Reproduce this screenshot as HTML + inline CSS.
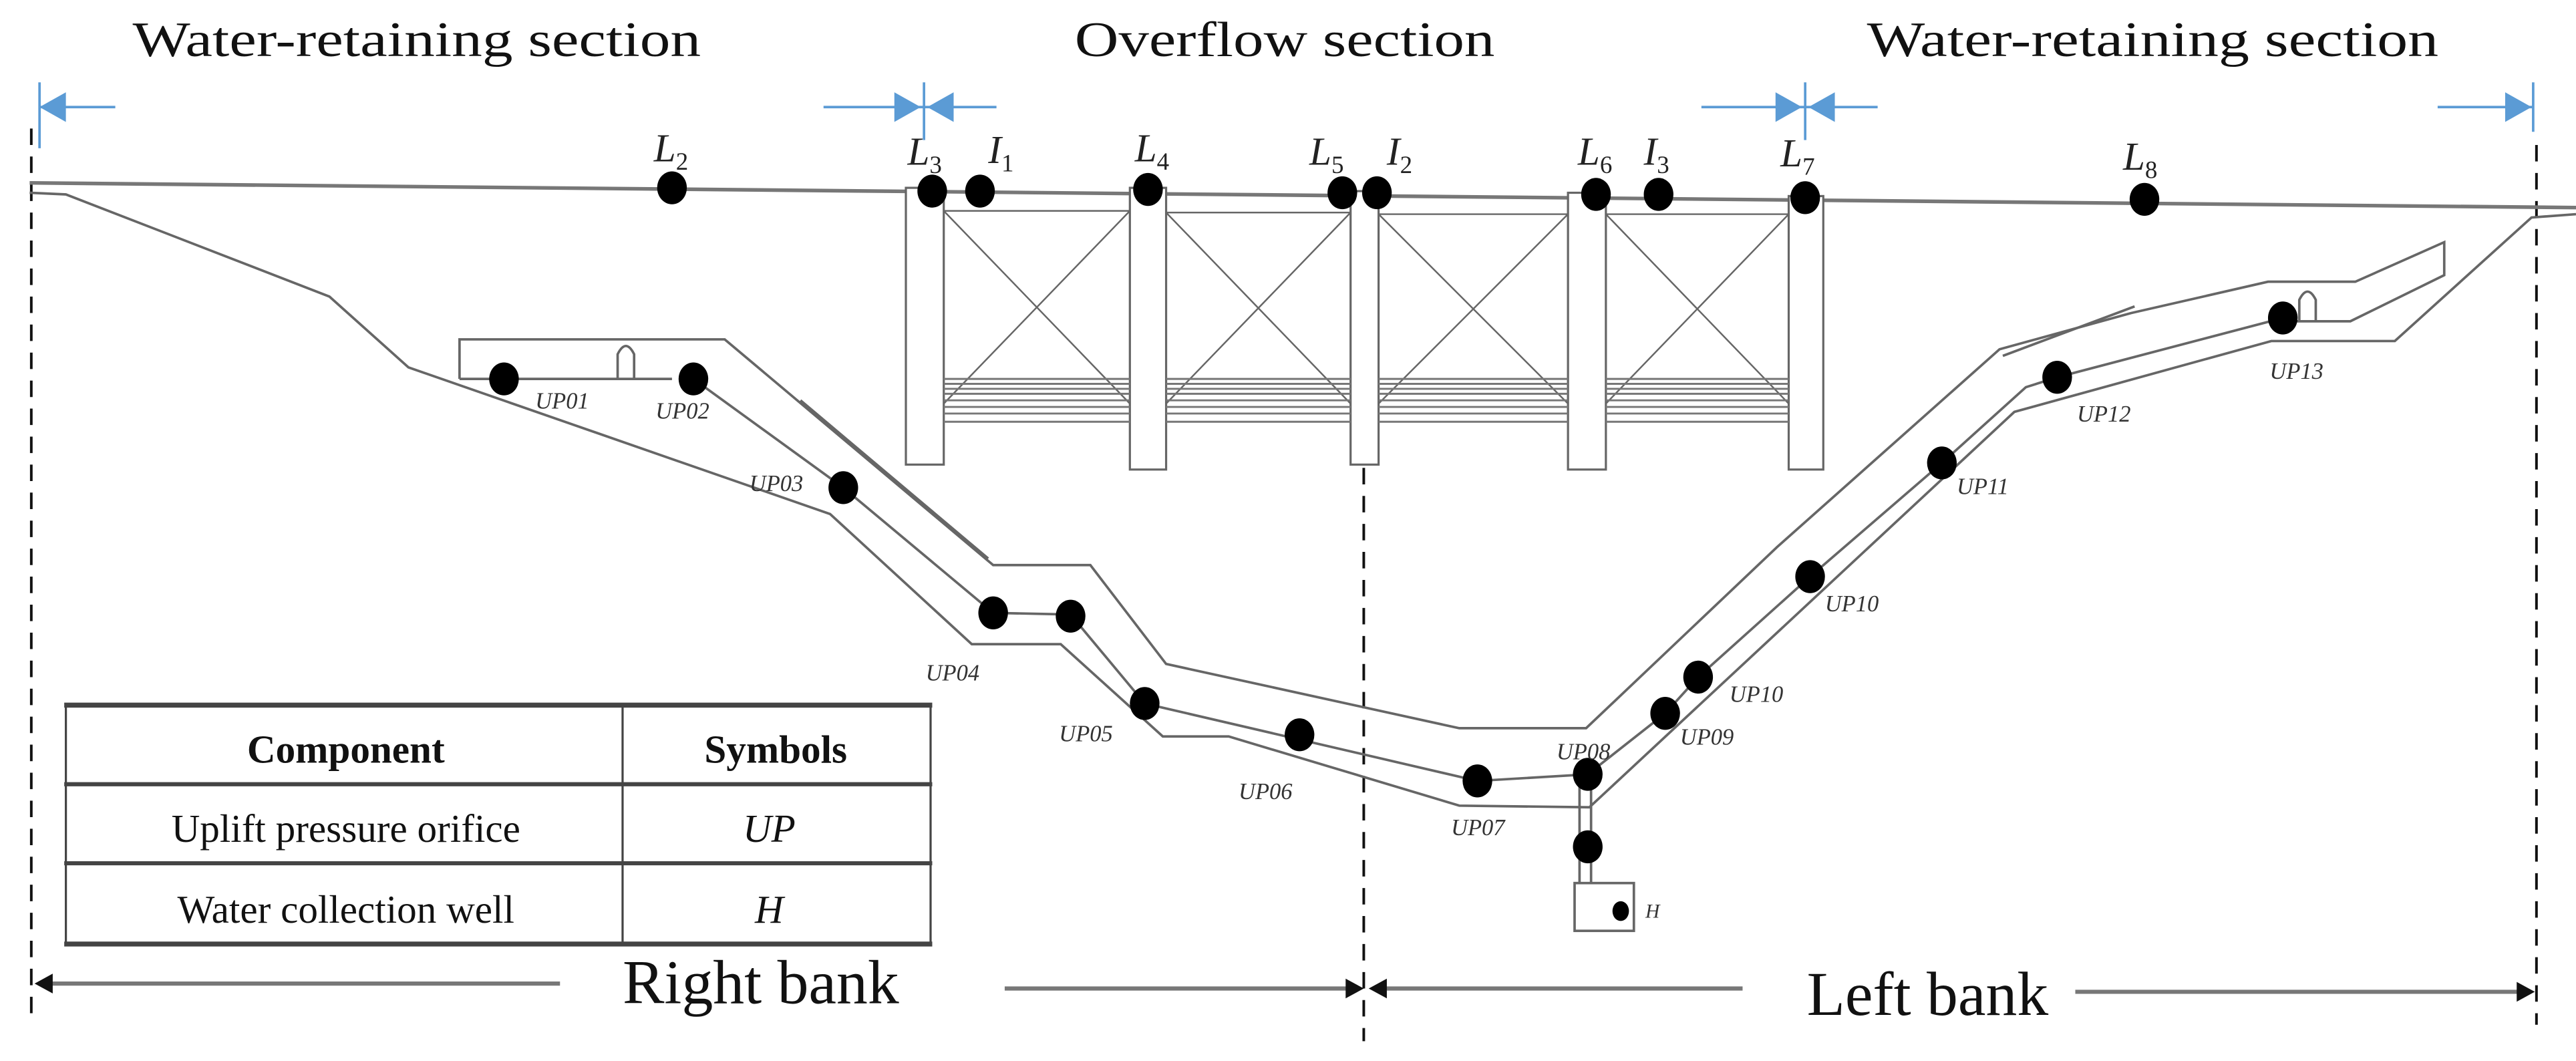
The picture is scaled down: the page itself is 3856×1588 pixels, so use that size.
<!DOCTYPE html>
<html><head><meta charset="utf-8"><style>
html,body{margin:0;padding:0;background:#fff;}
svg{display:block;}
text{font-family:"Liberation Serif",serif;}
</style></head><body>
<svg width="3856" height="1588" viewBox="0 0 1564 644" preserveAspectRatio="none" xmlns="http://www.w3.org/2000/svg">
<rect width="1564" height="644" fill="#fff"/>
<g font-size="30" fill="#111" text-anchor="middle">
<text x="253" y="34" textLength="345" lengthAdjust="spacingAndGlyphs">Water-retaining section</text>
<text x="780" y="34" textLength="255" lengthAdjust="spacingAndGlyphs">Overflow section</text>
<text x="1307" y="34" textLength="347" lengthAdjust="spacingAndGlyphs">Water-retaining section</text>
</g>
<g stroke="#5b9bd5" stroke-width="1.5" fill="#5b9bd5">
<line x1="24" y1="50" x2="24" y2="90"/><line x1="24" y1="65" x2="70" y2="65"/><polygon points="24,65 40,56 40,74" stroke="none"/>
<line x1="561" y1="50" x2="561" y2="85"/><line x1="500" y1="65" x2="605" y2="65"/>
<polygon points="559,65 543,56 543,74" stroke="none"/><polygon points="563,65 579,56 579,74" stroke="none"/>
<line x1="1096" y1="50" x2="1096" y2="85"/><line x1="1033" y1="65" x2="1140" y2="65"/>
<polygon points="1094,65 1078,56 1078,74" stroke="none"/><polygon points="1098,65 1114,56 1114,74" stroke="none"/>
<line x1="1538" y1="50" x2="1538" y2="80"/><line x1="1480" y1="65" x2="1538" y2="65"/><polygon points="1537,65 1521,56 1521,74" stroke="none"/>
</g>
<g stroke="#111" stroke-width="1.6" stroke-dasharray="10,7">
<line x1="19" y1="78" x2="19" y2="622"/>
<line x1="828" y1="250" x2="828" y2="632"/>
<line x1="1540" y1="88" x2="1540" y2="622"/>
</g>
<g stroke="#777" stroke-width="2.2" fill="none">
<line x1="18" y1="111" x2="1564" y2="126"/>
</g>
<g stroke="#666" stroke-width="1.3" fill="#fff">
<rect x="550" y="114" width="23" height="168"/>
<rect x="686" y="114" width="22" height="171"/>
<rect x="820" y="116" width="17" height="166"/>
<rect x="952" y="117" width="23" height="168"/>
<rect x="1086" y="119" width="21" height="166"/>
</g>
<g stroke="#666" stroke-width="1" fill="none">
<path d="M573,128H686M573,245L686,128M573,128L686,245"/>
<path d="M708,129H820M708,245L820,129M708,129L820,245"/>
<path d="M837,130H952M837,245L952,130M837,130L952,245"/>
<path d="M975,130H1086M975,245L1086,130M975,130L1086,245"/>
</g>
<g stroke="#777" stroke-width="1.2">
<path d="M573,230H686M573,233H686M573,236H686M573,239H686M573,243H686M573,247H686M573,251H686M573,256H686"/>
<path d="M708,230H820M708,233H820M708,236H820M708,239H820M708,243H820M708,247H820M708,251H820M708,256H820"/>
<path d="M837,230H952M837,233H952M837,236H952M837,239H952M837,243H952M837,247H952M837,251H952M837,256H952"/>
<path d="M975,230H1086M975,233H1086M975,236H1086M975,239H1086M975,243H1086M975,247H1086M975,251H1086M975,256H1086"/>
</g>
<g stroke="#666" stroke-width="1.5" fill="none" stroke-linejoin="miter">
<polyline points="18,117 40,118 200,180 248,223 504,312 590,391 644,391 706,447 746,447 886,489 965,490 1223,250 1379,207 1454,207 1537,132 1564,130"/>
<polyline points="279,230 279,206 440,206 603,343 662,343 708,403 886,442 963,442 1079,332 1214,212 1294,190 1377,171 1430,171 1484,147 1484,167 1427,195 1390,195"/>
<polyline points="486,243 600,339"/>
<polyline points="1216,216 1296,186"/>
<polyline points="279,230 408,230"/>
<polyline points="421,230 512,296 603,372 650,373 695,427 897,474 964,470 1011,433 1031,411 1099,350 1179,281 1230,235 1249,229 1386,193"/>
<path d="M375,230V215Q380,205 385,215V230"/>
<path d="M1396,195V182Q1401,172 1406,182V195"/>
<path d="M959,472V536M966,472V536"/>
<rect x="956" y="536" width="36" height="29"/>
</g>
<g fill="#000">
<ellipse cx="408" cy="114" rx="9" ry="10"/><ellipse cx="566" cy="116" rx="9" ry="10"/><ellipse cx="595" cy="116" rx="9" ry="10"/>
<ellipse cx="697" cy="115" rx="9" ry="10"/><ellipse cx="815" cy="117" rx="9" ry="10"/><ellipse cx="836" cy="117" rx="9" ry="10"/>
<ellipse cx="969" cy="118" rx="9" ry="10"/><ellipse cx="1007" cy="118" rx="9" ry="10"/><ellipse cx="1096" cy="120" rx="9" ry="10"/>
<ellipse cx="1302" cy="121" rx="9" ry="10"/>
<ellipse cx="306" cy="230" rx="9" ry="10"/><ellipse cx="421" cy="230" rx="9" ry="10"/><ellipse cx="512" cy="296" rx="9" ry="10"/>
<ellipse cx="603" cy="372" rx="9" ry="10"/><ellipse cx="650" cy="374" rx="9" ry="10"/><ellipse cx="695" cy="427" rx="9" ry="10"/>
<ellipse cx="789" cy="446" rx="9" ry="10"/><ellipse cx="897" cy="474" rx="9" ry="10"/><ellipse cx="964" cy="470" rx="9" ry="10"/>
<ellipse cx="1011" cy="433" rx="9" ry="10"/><ellipse cx="1031" cy="411" rx="9" ry="10"/><ellipse cx="1099" cy="350" rx="9" ry="10"/>
<ellipse cx="1179" cy="281" rx="9" ry="10"/><ellipse cx="1249" cy="229" rx="9" ry="10"/><ellipse cx="1386" cy="193" rx="9" ry="10"/>
<ellipse cx="964" cy="514" rx="9" ry="10"/><ellipse cx="984" cy="553" rx="5" ry="6"/>
</g>
<g font-size="24" font-style="italic" fill="#222">
<text x="397" y="98">L<tspan font-size="15" font-style="normal" dy="5">2</tspan></text>
<text x="551" y="100">L<tspan font-size="15" font-style="normal" dy="5">3</tspan></text>
<text x="600" y="99">I<tspan font-size="15" font-style="normal" dy="5">1</tspan></text>
<text x="689" y="98">L<tspan font-size="15" font-style="normal" dy="5">4</tspan></text>
<text x="795" y="100">L<tspan font-size="15" font-style="normal" dy="5">5</tspan></text>
<text x="842" y="100">I<tspan font-size="15" font-style="normal" dy="5">2</tspan></text>
<text x="958" y="100">L<tspan font-size="15" font-style="normal" dy="5">6</tspan></text>
<text x="998" y="100">I<tspan font-size="15" font-style="normal" dy="5">3</tspan></text>
<text x="1081" y="101">L<tspan font-size="15" font-style="normal" dy="5">7</tspan></text>
<text x="1289" y="103">L<tspan font-size="15" font-style="normal" dy="5">8</tspan></text>
</g>
<g font-size="14" font-style="italic" fill="#333">
<text x="325" y="248">UP01</text><text x="398" y="254">UP02</text><text x="455" y="298">UP03</text>
<text x="562" y="413">UP04</text><text x="643" y="450">UP05</text><text x="752" y="485">UP06</text>
<text x="881" y="507">UP07</text><text x="945" y="461">UP08</text><text x="1020" y="452">UP09</text>
<text x="1050" y="426">UP10</text><text x="1108" y="371">UP10</text><text x="1188" y="300">UP11</text>
<text x="1261" y="256">UP12</text><text x="1378" y="230">UP13</text><text x="999" y="557" font-size="12">H</text>
</g>
<g stroke="#444" fill="none">
<line x1="39" y1="428" x2="566" y2="428" stroke-width="3"/>
<line x1="39" y1="476" x2="566" y2="476" stroke-width="2.5"/>
<line x1="39" y1="524" x2="566" y2="524" stroke-width="2.5"/>
<line x1="39" y1="573" x2="566" y2="573" stroke-width="3"/>
<line x1="40" y1="428" x2="40" y2="573" stroke-width="1.3"/>
<line x1="378" y1="428" x2="378" y2="573" stroke-width="1.3"/>
<line x1="565" y1="428" x2="565" y2="573" stroke-width="1.3"/>
</g>
<g font-size="24" fill="#111" text-anchor="middle">
<text x="210" y="463" font-weight="bold">Component</text>
<text x="471" y="463" font-weight="bold">Symbols</text>
<text x="210" y="511">Uplift pressure orifice</text>
<text x="467" y="511" font-style="italic">UP</text>
<text x="210" y="560">Water collection well</text>
<text x="467" y="560" font-style="italic">H</text>
</g>
<g stroke="#777" stroke-width="2.5">
<line x1="24" y1="597" x2="340" y2="597"/>
<line x1="610" y1="600" x2="822" y2="600"/>
<line x1="836" y1="600" x2="1058" y2="600"/>
<line x1="1260" y1="602" x2="1534" y2="602"/>
</g>
<g fill="#111">
<polygon points="21,597 32,591 32,603"/>
<polygon points="828,600 817,594 817,606"/>
<polygon points="831,600 842,594 842,606"/>
<polygon points="1539,602 1528,596 1528,608"/>
</g>
<g font-size="38" fill="#111">
<text x="378" y="609">Right bank</text>
<text x="1097" y="616">Left bank</text>
</g>
</svg>
</body></html>
